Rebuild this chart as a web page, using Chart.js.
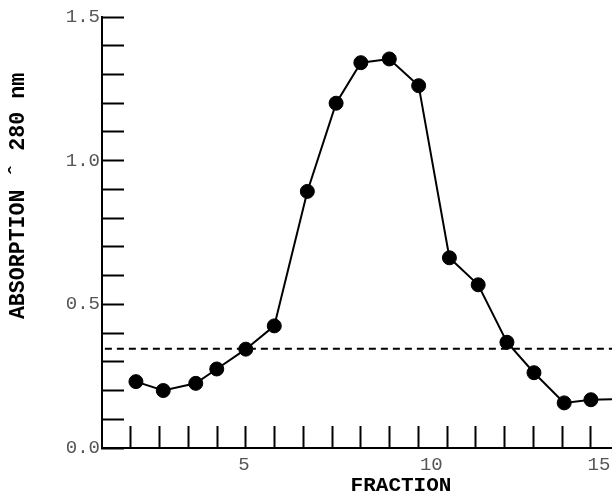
<!DOCTYPE html>
<html>
<head>
<meta charset="utf-8">
<title>Absorption at 280 nm per fraction</title>
<script src="https://cdn.jsdelivr.net/npm/chart.js@4.4.1/dist/chart.umd.min.js"></script>
<style>
  body { margin: 0; background: #fff; }
  canvas { display: block; }
</style>
</head>
<body>
<canvas id="absChart" width="612" height="493"></canvas>
<script>
'use strict';

// data (x in tick units, last point is off the right edge)
var fractions = [1.18, 2.13, 3.26, 3.99, 5.0, 5.99, 7.14, 8.14, 9.0, 9.99, 11.01, 12.08, 13.08, 14.08, 15.02, 16.07, 17.0, 18.0];
var absorption = [0.231, 0.200, 0.225, 0.275, 0.344, 0.425, 0.893, 1.200, 1.341, 1.354, 1.261, 0.662, 0.568, 0.368, 0.262, 0.157, 0.168, 0.170];

// dashed reference level
var baseline = 0.345;
var baselineX = [0.1, 17.8];

// axis ticks and labels
var xTicks = [1, 2, 3, 4, 5, 6, 7, 8, 9, 10, 11, 12, 13, 14, 15, 16, 17];
var xLabelAt = [4.94, 11.45, 17.28];
var xLabels = ['5', '10', '15'];
var yTicks = [0, 0.1, 0.2, 0.3, 0.4, 0.5, 0.6, 0.7, 0.8, 0.9, 1.0, 1.1, 1.2, 1.3, 1.4, 1.5];
var yLabels = ['0.0', '0.5', '1.0', '1.5'];

var xMax = 17.733;
var labelFont = { family: '"Liberation Mono", "Courier New", monospace', size: 19 };

// build point lists for the library
var curve = [];
for (var i = 0; i < fractions.length; i++) {
    curve.push({ x: fractions[i], y: absorption[i] });
}
var dashed = [];
for (var j = 0; j < baselineX.length; j++) {
    dashed.push({ x: baselineX[j], y: baseline });
}

// no extra label padding, the chart area is fixed by the layout padding
function noPadding(scale) {
    scale.paddingTop = 0;
    scale.paddingBottom = 0;
    scale.paddingLeft = 0;
    scale.paddingRight = 0;
}

// axis titles, placed where the figure has them
var axisTitles = {
    id: 'axisTitles',
    afterDraw: function(chart) {
        var ctx = chart.ctx;
        ctx.save();
        ctx.fillStyle = '#000';
        ctx.textAlign = 'center';
        ctx.textBaseline = 'alphabetic';
        ctx.font = 'bold 21px "Liberation Mono", "Courier New", monospace';
        ctx.fillText('FRACTION', 401, 491);
        ctx.font = 'bold 21.6px "Liberation Mono", "Courier New", monospace';
        ctx.translate(24, 196);
        ctx.rotate(-Math.PI / 2);
        ctx.fillText('ABSORPTION \u02c6 280 nm', 0, 0);
        ctx.restore();
    }
};

var ctx = document.getElementById('absChart').getContext('2d');
var chart = new Chart(ctx, {
    type: 'line',
    data: {
        datasets: [
            {
                label: 'Absorption',
                data: curve,
                borderColor: '#000',
                borderWidth: 2,
                pointRadius: 7,
                pointBorderWidth: 1,
                pointBackgroundColor: '#000',
                pointBorderColor: '#000',
                tension: 0
            },
            {
                label: 'Baseline',
                data: dashed,
                borderColor: '#000',
                borderWidth: 2,
                borderDash: [7, 5],
                pointRadius: 0
            }
        ]
    },
    options: {
        responsive: false,
        animation: false,
        devicePixelRatio: 1,
        layout: { autoPadding: false, padding: { top: 17, right: 0, left: 0, bottom: 0 } },
        plugins: {
            legend: { display: false },
            tooltip: { enabled: false }
        },
        scales: {
            x: {
                type: 'linear',
                min: 0,
                max: xMax,
                weight: 0,
                afterBuildTicks: function(scale) {
                    scale.ticks = xTicks.map(function(v) { return { value: v }; });
                },
                afterFit: function(scale) { scale.height = 0; noPadding(scale); },
                grid: { drawOnChartArea: false, tickLength: -22, tickWidth: 2, tickColor: '#000' },
                border: { color: '#000', width: 2 },
                ticks: { display: false }
            },
            xl: {
                type: 'linear',
                position: 'bottom',
                min: 0,
                max: xMax,
                weight: 1,
                afterBuildTicks: function(scale) {
                    scale.ticks = xLabelAt.map(function(v) { return { value: v }; });
                },
                afterFit: function(scale) { scale.height = 45; noPadding(scale); },
                grid: { display: false },
                border: { display: false },
                ticks: {
                    autoSkip: false,
                    maxRotation: 0,
                    padding: -2,
                    color: '#555',
                    font: labelFont,
                    callback: function(value, index) { return xLabels[index]; }
                }
            },
            y: {
                min: 0,
                max: 1.5,
                afterBuildTicks: function(scale) {
                    scale.ticks = yTicks.map(function(v) { return { value: v }; });
                },
                afterFit: function(scale) { scale.width = 102; noPadding(scale); },
                grid: { drawOnChartArea: false, tickLength: -22, tickWidth: 2, tickColor: '#000' },
                border: { color: '#000', width: 2 },
                ticks: {
                    autoSkip: false,
                    padding: 24,
                    color: '#555',
                    font: labelFont,
                    callback: function(value) {
                        var txt = value.toFixed(1);
                        return yLabels.indexOf(txt) >= 0 ? txt : '';
                    }
                }
            }
        }
    },
    plugins: [axisTitles]
});
</script>
</body>
</html>
